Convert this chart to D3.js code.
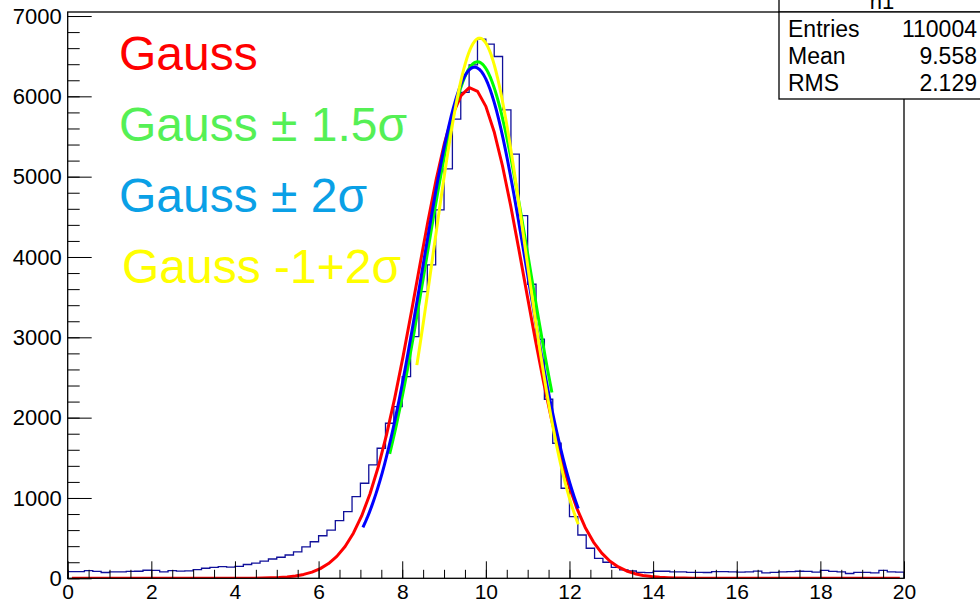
<!DOCTYPE html>
<html>
<head>
<meta charset="utf-8">
<script src="https://cdn.jsdelivr.net/npm/d3@7"></script>
<style>
  body { margin: 0; background: #fff; }
  svg { display: block; }
  text { font-family: "Liberation Sans", Arial, Helvetica, sans-serif; }
</style>
</head>
<body>
<svg id="chart" width="980" height="605"></svg>
<script>
// Histogram h1: 100 equal bins over [0, 20]
const histName = "h1";
const histRange = [0, 20];
const counts = [
  83, 83, 95, 85, 72, 80, 80, 85, 88, 100,
  98, 80, 95, 90, 92, 108, 125, 135, 145, 140,
  148, 172, 190, 215, 240, 262, 290, 330, 390, 455,
  530, 600, 717, 830, 1017, 1183, 1411, 1619, 1930, 2137,
  2511, 3009, 3569, 3902, 4587, 5097, 5716, 6050, 6392, 6712,
  6650, 6496, 5832, 5280, 4516, 3661, 2976, 2229, 1681, 1121,
  767, 539, 374, 249, 200, 135, 104, 91, 75, 70,
  88, 88, 80, 80, 75, 75, 72, 82, 82, 80,
  78, 80, 90, 68, 75, 80, 84, 88, 86, 78,
  98, 85, 80, 60, 75, 75, 68, 98, 80, 78
];

// Fitted Gaussians: amplitude, mean, sigma and the interval each fit covers
const fitLabels = ["Gauss", "Gauss \u00b1 1.5\u03c3", "Gauss \u00b1 2\u03c3", "Gauss -1+2\u03c3"];
const fitAmp    = [6110, 6430, 6364, 6725];
const fitMean   = [9.64, 9.80, 9.73, 9.85];
const fitSigma  = [1.285, 1.245, 1.243, 1.10];
const fitLo     = [0.1, 7.70, 7.06, 8.35];
const fitHi     = [19.9, 11.58, 12.21, 12.21];
const fitColors = ["#ff0000", "#00ff00", "#0000ff", "#ffff00"];
const labelColors = ["#ff0000", "#55f055", "#0aa0e6", "#ffff00"];

// Statistics box
const statLabels = ["Entries", "Mean", "RMS"];
const statValues = ["110004", "9.558", "2.129"];

// Axis ticks
const xMajorTicks = [0, 2, 4, 6, 8, 10, 12, 14, 16, 18, 20];
const yMajorTicks = [0, 1000, 2000, 3000, 4000, 5000, 6000, 7000];
const yMax = 7050;

const svg = d3.select("#chart");
const L = 67.7, R = 904, T = 12, B = 578.3;

const x = d3.scaleLinear().domain(histRange).range([L, R]);
const y = d3.scaleLinear().domain([0, yMax]).range([B, T]);

const binW = (histRange[1] - histRange[0]) / counts.length;

// Histogram outline as a step path
const pts = [[histRange[0], 0]];
counts.forEach((c, i) => {
  const x0 = histRange[0] + i * binW;
  pts.push([x0, c], [x0 + binW, c]);
});
pts.push([histRange[1], 0]);

svg.append("clipPath").attr("id", "plotclip")
  .append("rect").attr("x", L).attr("y", T).attr("width", R - L).attr("height", B - T);

const plot = svg.append("g").attr("clip-path", "url(#plotclip)");

plot.append("path")
  .attr("d", d3.line().x(d => x(d[0])).y(d => y(d[1]))(pts))
  .attr("fill", "none")
  .attr("stroke", "#10109a")
  .attr("stroke-width", 1.3);

// Fit curves, sampled at 100 segments over their own ranges
fitLabels.forEach((name, k) => {
  const n = 100;
  const samples = d3.range(n + 1).map(j => {
    const xv = fitLo[k] + (fitHi[k] - fitLo[k]) * j / n;
    const z = (xv - fitMean[k]) / fitSigma[k];
    return [xv, fitAmp[k] * Math.exp(-0.5 * z * z)];
  });
  plot.append("path")
    .attr("d", d3.line().x(d => x(d[0])).y(d => y(d[1]))(samples))
    .attr("fill", "none")
    .attr("stroke", fitColors[k])
    .attr("stroke-width", 3)
    .attr("stroke-linejoin", "round");
});

// Axes: ticks point into the frame
const yMinor = d3.range(0, yMax + 1, 200);
const xMinor = d3.range(0, 20.01, 0.5);

const yAxisG = svg.append("g").attr("transform", `translate(${L},0)`);
yAxisG.call(d3.axisLeft(y).tickValues(yMinor).tickSize(-12).tickFormat(""));
yAxisG.select(".domain").remove();
const yAxisMajor = svg.append("g").attr("transform", `translate(${L},0)`);
yAxisMajor.call(d3.axisLeft(y).tickValues(yMajorTicks).tickSize(-24).tickPadding(6).tickFormat(d3.format("d")));
yAxisMajor.select(".domain").remove();

const xAxisG = svg.append("g").attr("transform", `translate(0,${B})`);
xAxisG.call(d3.axisBottom(x).tickValues(xMinor).tickSize(-8.5).tickFormat(""));
xAxisG.select(".domain").remove();
const xAxisMajor = svg.append("g").attr("transform", `translate(0,${B})`);
xAxisMajor.call(d3.axisBottom(x).tickValues(xMajorTicks).tickSize(-17).tickPadding(6).tickFormat(d3.format("d")));
xAxisMajor.select(".domain").remove();

svg.selectAll(".tick line").attr("stroke", "#000").attr("stroke-width", 1);
yAxisMajor.selectAll(".tick text").attr("fill", "#000").style("font-size", "22px");
xAxisMajor.selectAll(".tick text").attr("fill", "#000").style("font-size", "21px");

// Frame
svg.append("rect")
  .attr("x", L).attr("y", T).attr("width", R - L).attr("height", B - T)
  .attr("fill", "none").attr("stroke", "#000").attr("stroke-width", 1.3);

// Legend texts
const legendY = [70, 141, 212, 283];
const legendX = [119, 119, 119, 122];
fitLabels.forEach((name, k) => {
  svg.append("text")
    .attr("x", legendX[k]).attr("y", legendY[k])
    .attr("fill", labelColors[k])
    .style("font-size", "48px")
    .text(name);
});

// Statistics box with title header
const sbX = 779, sbTop = 12, sbBottom = 99;
svg.append("rect")
  .attr("x", sbX).attr("y", -30).attr("width", 220).attr("height", sbTop + 30)
  .attr("fill", "#fff").attr("stroke", "#000").attr("stroke-width", 1.3);
svg.append("text")
  .attr("x", 882).attr("y", 9).attr("text-anchor", "middle")
  .style("font-size", "22px").text(histName);
svg.append("rect")
  .attr("x", sbX).attr("y", sbTop).attr("width", 220).attr("height", sbBottom - sbTop)
  .attr("fill", "#fff").attr("stroke", "#000").attr("stroke-width", 1.3);
const rowY = [37, 64, 91];
statLabels.forEach((lab, i) => {
  svg.append("text").attr("x", 788).attr("y", rowY[i])
    .style("font-size", "23px").text(lab);
  svg.append("text").attr("x", 977).attr("y", rowY[i]).attr("text-anchor", "end")
    .style("font-size", "23px").text(statValues[i]);
});
</script>
</body>
</html>
